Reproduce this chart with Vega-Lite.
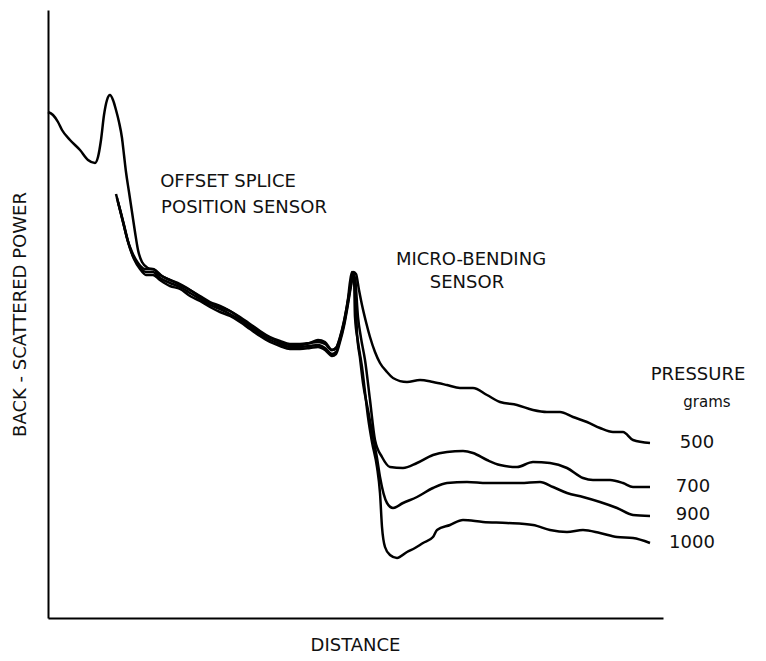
{
  "$schema": "https://vega.github.io/schema/vega-lite/v6.json",
  "width": 615,
  "height": 608,
  "autosize": {"type": "none"},
  "padding": {"left": 48, "top": 10, "right": 103, "bottom": 43},
  "background": "white",
  "config": {
    "view": {"stroke": null},
    "axis": {"domainColor": "black", "domainWidth": 2, "ticks": false, "labels": false, "grid": false, "titleFont": "DejaVu Sans", "titleFontSize": 18, "titleFontWeight": "normal", "titleColor": "#111"}
  },
  "datasets": {
    "curves": [
      {"p":"500","x":0,"y":506},{"p":"500","x":5,"y":503},{"p":"500","x":10,"y":496},{"p":"500","x":14,"y":488},{"p":"500","x":22,"y":478},{"p":"500","x":32,"y":468},{"p":"500","x":40,"y":458},{"p":"500","x":47,"y":455},{"p":"500","x":50,"y":461},{"p":"500","x":53,"y":478},{"p":"500","x":56,"y":503},{"p":"500","x":59,"y":518},{"p":"500","x":62,"y":523},{"p":"500","x":65,"y":518},{"p":"500","x":68,"y":508},{"p":"500","x":71,"y":496},{"p":"500","x":74,"y":480},{"p":"500","x":76,"y":463},{"p":"500","x":78,"y":446},{"p":"500","x":81,"y":426},{"p":"500","x":84,"y":406},{"p":"500","x":87,"y":386},{"p":"500","x":90,"y":368},{"p":"500","x":94,"y":356},{"p":"500","x":100,"y":350},{"p":"500","x":107,"y":348},{"p":"500","x":114,"y":342},{"p":"500","x":122,"y":338},{"p":"500","x":132,"y":333},{"p":"500","x":142,"y":328},{"p":"500","x":152,"y":321},{"p":"500","x":162,"y":315},{"p":"500","x":172,"y":311},{"p":"500","x":182,"y":307},{"p":"500","x":192,"y":300},{"p":"500","x":202,"y":293},{"p":"500","x":212,"y":286},{"p":"500","x":222,"y":280},{"p":"500","x":232,"y":276},{"p":"500","x":242,"y":273},{"p":"500","x":252,"y":273},{"p":"500","x":262,"y":275},{"p":"500","x":270,"y":278},{"p":"500","x":277,"y":276},{"p":"500","x":284,"y":268},{"p":"500","x":288,"y":270},{"p":"500","x":292,"y":280},{"p":"500","x":296,"y":296},{"p":"500","x":300,"y":318},{"p":"500","x":303,"y":336},{"p":"500","x":305,"y":346},{"p":"500","x":308,"y":344},{"p":"500","x":311,"y":328},{"p":"500","x":314,"y":313},{"p":"500","x":318,"y":296},{"p":"500","x":322,"y":281},{"p":"500","x":327,"y":266},{"p":"500","x":332,"y":255},{"p":"500","x":339,"y":246},{"p":"500","x":345,"y":240},{"p":"500","x":359,"y":236},{"p":"500","x":372,"y":238},{"p":"500","x":385,"y":236},{"p":"500","x":399,"y":233},{"p":"500","x":412,"y":230},{"p":"500","x":425,"y":230},{"p":"500","x":439,"y":223},{"p":"500","x":452,"y":216},{"p":"500","x":469,"y":213},{"p":"500","x":485,"y":208},{"p":"500","x":499,"y":206},{"p":"500","x":512,"y":206},{"p":"500","x":525,"y":201},{"p":"500","x":539,"y":196},{"p":"500","x":552,"y":190},{"p":"500","x":565,"y":186},{"p":"500","x":575,"y":186},{"p":"500","x":585,"y":178},{"p":"500","x":602,"y":175},

      {"p":"700","x":69,"y":420},{"p":"700","x":72,"y":408},{"p":"700","x":76,"y":392},{"p":"700","x":80,"y":376},{"p":"700","x":85,"y":362},{"p":"700","x":91,"y":352},{"p":"700","x":98,"y":346},{"p":"700","x":105,"y":346},{"p":"700","x":112,"y":340},{"p":"700","x":122,"y":335},{"p":"700","x":132,"y":331},{"p":"700","x":142,"y":325},{"p":"700","x":152,"y":319},{"p":"700","x":162,"y":313},{"p":"700","x":172,"y":309},{"p":"700","x":182,"y":304},{"p":"700","x":192,"y":298},{"p":"700","x":202,"y":291},{"p":"700","x":212,"y":284},{"p":"700","x":222,"y":278},{"p":"700","x":232,"y":274},{"p":"700","x":242,"y":271},{"p":"700","x":252,"y":271},{"p":"700","x":262,"y":272},{"p":"700","x":270,"y":273},{"p":"700","x":277,"y":270},{"p":"700","x":284,"y":264},{"p":"700","x":288,"y":266},{"p":"700","x":292,"y":278},{"p":"700","x":296,"y":294},{"p":"700","x":300,"y":316},{"p":"700","x":303,"y":334},{"p":"700","x":305,"y":344},{"p":"700","x":307,"y":340},{"p":"700","x":310,"y":301},{"p":"700","x":313,"y":280},{"p":"700","x":317,"y":258},{"p":"700","x":322,"y":218},{"p":"700","x":327,"y":178},{"p":"700","x":334,"y":161},{"p":"700","x":342,"y":151},{"p":"700","x":355,"y":150},{"p":"700","x":369,"y":155},{"p":"700","x":385,"y":163},{"p":"700","x":399,"y":166},{"p":"700","x":415,"y":167},{"p":"700","x":425,"y":165},{"p":"700","x":439,"y":158},{"p":"700","x":452,"y":153},{"p":"700","x":469,"y":151},{"p":"700","x":485,"y":156},{"p":"700","x":502,"y":155},{"p":"700","x":519,"y":150},{"p":"700","x":535,"y":140},{"p":"700","x":545,"y":138},{"p":"700","x":562,"y":138},{"p":"700","x":575,"y":135},{"p":"700","x":585,"y":131},{"p":"700","x":602,"y":131},

      {"p":"900","x":70,"y":416},{"p":"900","x":73,"y":405},{"p":"900","x":77,"y":389},{"p":"900","x":81,"y":373},{"p":"900","x":86,"y":359},{"p":"900","x":92,"y":349},{"p":"900","x":98,"y":343},{"p":"900","x":105,"y":343},{"p":"900","x":112,"y":338},{"p":"900","x":122,"y":332},{"p":"900","x":132,"y":329},{"p":"900","x":142,"y":322},{"p":"900","x":152,"y":317},{"p":"900","x":162,"y":311},{"p":"900","x":172,"y":306},{"p":"900","x":182,"y":302},{"p":"900","x":192,"y":296},{"p":"900","x":202,"y":289},{"p":"900","x":212,"y":282},{"p":"900","x":222,"y":276},{"p":"900","x":232,"y":272},{"p":"900","x":242,"y":269},{"p":"900","x":252,"y":269},{"p":"900","x":262,"y":270},{"p":"900","x":270,"y":271},{"p":"900","x":277,"y":268},{"p":"900","x":284,"y":262},{"p":"900","x":288,"y":264},{"p":"900","x":292,"y":276},{"p":"900","x":296,"y":292},{"p":"900","x":300,"y":314},{"p":"900","x":303,"y":332},{"p":"900","x":305,"y":342},{"p":"900","x":307,"y":338},{"p":"900","x":309,"y":285},{"p":"900","x":312,"y":260},{"p":"900","x":315,"y":235},{"p":"900","x":320,"y":208},{"p":"900","x":325,"y":181},{"p":"900","x":329,"y":160},{"p":"900","x":332,"y":141},{"p":"900","x":339,"y":115},{"p":"900","x":345,"y":110},{"p":"900","x":355,"y":115},{"p":"900","x":369,"y":121},{"p":"900","x":385,"y":130},{"p":"900","x":399,"y":135},{"p":"900","x":419,"y":136},{"p":"900","x":439,"y":135},{"p":"900","x":452,"y":135},{"p":"900","x":472,"y":135},{"p":"900","x":492,"y":136},{"p":"900","x":505,"y":131},{"p":"900","x":519,"y":125},{"p":"900","x":535,"y":121},{"p":"900","x":552,"y":116},{"p":"900","x":569,"y":110},{"p":"900","x":585,"y":103},{"p":"900","x":602,"y":102},

      {"p":"1000","x":68,"y":424},{"p":"1000","x":71,"y":412},{"p":"1000","x":75,"y":396},{"p":"1000","x":79,"y":380},{"p":"1000","x":84,"y":366},{"p":"1000","x":90,"y":355},{"p":"1000","x":97,"y":349},{"p":"1000","x":105,"y":349},{"p":"1000","x":112,"y":343},{"p":"1000","x":122,"y":338},{"p":"1000","x":132,"y":334},{"p":"1000","x":142,"y":328},{"p":"1000","x":152,"y":322},{"p":"1000","x":162,"y":316},{"p":"1000","x":172,"y":312},{"p":"1000","x":182,"y":307},{"p":"1000","x":192,"y":301},{"p":"1000","x":202,"y":294},{"p":"1000","x":212,"y":287},{"p":"1000","x":222,"y":281},{"p":"1000","x":232,"y":277},{"p":"1000","x":242,"y":274},{"p":"1000","x":252,"y":274},{"p":"1000","x":262,"y":275},{"p":"1000","x":270,"y":276},{"p":"1000","x":277,"y":274},{"p":"1000","x":284,"y":268},{"p":"1000","x":288,"y":270},{"p":"1000","x":292,"y":281},{"p":"1000","x":296,"y":297},{"p":"1000","x":300,"y":319},{"p":"1000","x":302,"y":336},{"p":"1000","x":304,"y":346},{"p":"1000","x":306,"y":340},{"p":"1000","x":307,"y":301},{"p":"1000","x":310,"y":276},{"p":"1000","x":314,"y":251},{"p":"1000","x":317,"y":226},{"p":"1000","x":320,"y":201},{"p":"1000","x":324,"y":176},{"p":"1000","x":329,"y":151},{"p":"1000","x":332,"y":125},{"p":"1000","x":334,"y":91},{"p":"1000","x":337,"y":71},{"p":"1000","x":342,"y":63},{"p":"1000","x":349,"y":60},{"p":"1000","x":359,"y":66},{"p":"1000","x":367,"y":70},{"p":"1000","x":375,"y":75},{"p":"1000","x":385,"y":81},{"p":"1000","x":389,"y":88},{"p":"1000","x":402,"y":93},{"p":"1000","x":415,"y":98},{"p":"1000","x":435,"y":96},{"p":"1000","x":459,"y":95},{"p":"1000","x":485,"y":93},{"p":"1000","x":502,"y":88},{"p":"1000","x":519,"y":86},{"p":"1000","x":535,"y":88},{"p":"1000","x":552,"y":85},{"p":"1000","x":569,"y":81},{"p":"1000","x":585,"y":80},{"p":"1000","x":602,"y":75}
    ],
    "labels": [
      {"t":"OFFSET SPLICE","x":180,"y":436,"s":"big"},
      {"t":"POSITION SENSOR","x":196,"y":410,"s":"big"},
      {"t":"MICRO-BENDING","x":423,"y":358,"s":"big"},
      {"t":"SENSOR","x":419,"y":335,"s":"big"},
      {"t":"PRESSURE","x":650,"y":243,"s":"big"},
      {"t":"grams","x":659,"y":216,"s":"small"},
      {"t":"500","x":649,"y":175,"s":"big"},
      {"t":"700","x":645,"y":131,"s":"big"},
      {"t":"900","x":645,"y":103,"s":"big"},
      {"t":"1000","x":644,"y":75,"s":"big"}
    ]
  },
  "layer": [
    {
      "data": {"name": "curves"},
      "mark": {"type": "line", "color": "black", "strokeWidth": 2.5, "clip": false, "interpolate": "monotone"},
      "encoding": {
        "x": {"field": "x", "type": "quantitative", "scale": {"domain": [0, 615], "nice": false, "zero": false},
          "axis": {"title": "DISTANCE", "titleX": 307, "titleY": 27, "titleAlign": "center", "titleBaseline": "middle", "orient": "bottom"}},
        "y": {"field": "y", "type": "quantitative", "scale": {"domain": [0, 608], "nice": false, "zero": false},
          "axis": {"title": "BACK - SCATTERED POWER", "titleX": -28, "titleY": 304, "titleAlign": "center", "titleBaseline": "middle", "titleAngle": -90}},
        "detail": {"field": "p"},
        "order": {"value": null}
      }
    },
    {
      "data": {"name": "labels"},
      "mark": {"type": "text", "font": "DejaVu Sans", "color": "#111", "align": "center", "baseline": "middle"},
      "encoding": {
        "x": {"field": "x", "type": "quantitative"},
        "y": {"field": "y", "type": "quantitative"},
        "text": {"field": "t"},
        "size": {"field": "s", "type": "nominal", "scale": {"domain": ["big", "small"], "range": [18, 15]}, "legend": null}
      }
    }
  ]
}
